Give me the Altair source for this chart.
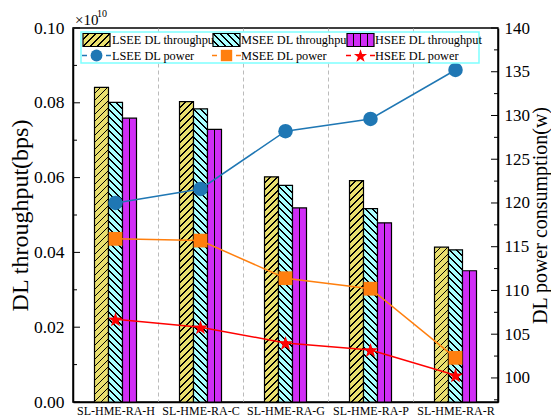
import math
import altair as alt
import pandas as pd

# ---------------- data ----------------
categories = ["SL-HME-RA-H", "SL-HME-RA-C", "SL-HME-RA-G", "SL-HME-RA-P", "SL-HME-RA-R"]
tp_series = ["LSEE DL throughput", "MSEE DL throughput", "HSEE DL throughput"]
pw_series = ["LSEE DL power", "MSEE DL power", "HSEE DL power"]

lsee_tp = [0.0841, 0.0803, 0.0602, 0.0592, 0.0414]
msee_tp = [0.0801, 0.0784, 0.0579, 0.0517, 0.0407]
hsee_tp = [0.0759, 0.0729, 0.0519, 0.0479, 0.0351]

lsee_pw = [120.0, 121.6, 128.2, 129.6, 135.2]
msee_pw = [115.9, 115.7, 111.4, 110.2, 102.3]
hsee_pw = [106.7, 105.8, 104.0, 103.2, 100.3]

left_major = [0.0, 0.02, 0.04, 0.06, 0.08, 0.10]
left_minor = [0.01, 0.03, 0.05, 0.07, 0.09]
right_major = [100, 105, 110, 115, 120, 125, 130, 135, 140]
right_minor = [97.5, 102.5, 107.5, 112.5, 117.5, 122.5, 127.5, 132.5, 137.5]

# ---------------- style ----------------
FONT = "Liberation Serif"
YELLOW = "#EAE06E"
CYAN = "#A8FFFF"
PURPLE = "#D02EF5"
BLUE = "#1F77B4"
ORANGE = "#FF7F0E"
RED = "#FF0000"
PLOT_W, PLOT_H = 425, 374
Y_DOMAIN = [0, 0.1]
P_DOMAIN = [97.25, 140]
BAR_W = 14

# star symbol path in the [-1, 1] box
_pts = []
for k in range(10):
    ang = math.radians(-90 + 36 * k)
    rad = 1.0 if k % 2 == 0 else 0.4
    _pts.append((rad * math.cos(ang), rad * math.sin(ang) + 0.1))
STAR = "M" + " L".join(f"{x:.3f},{y:.3f}" for x, y in _pts) + " Z"


def diag(fill, w, h, forward=True, period=7.0, lw=1.1):
    r = w / h
    k = (r + 1) / (r * r + 1)
    if forward:
        x1, y1, x2, y2 = 0, 0, r * k, k
    else:
        x1, y1, x2, y2 = 0, 1, r * k, 1 - k
    n = (w + h) / period
    frac = lw / (period / math.sqrt(2))
    stops = []
    i = 0
    while i < n:
        a = min(i / n, 1)
        b = min((i + 1 - frac) / n, 1)
        c = min((i + 1) / n, 1)
        stops += [
            {"offset": a, "color": fill},
            {"offset": b, "color": fill},
            {"offset": b, "color": "black"},
            {"offset": c, "color": "black"},
        ]
        i += 1
    return {"gradient": "linear", "x1": x1, "y1": y1, "x2": x2, "y2": y2, "stops": stops}


def vert(fill, w, period=7.0, lw=1.2):
    n = max(1, round(w / period))
    d = lw / 2 / w
    stops = [{"offset": 0, "color": fill}]
    for kk in range(1, n):
        c = kk / n
        stops += [
            {"offset": c - d, "color": fill},
            {"offset": c - d, "color": "black"},
            {"offset": c + d, "color": "black"},
            {"offset": c + d, "color": fill},
        ]
    stops.append({"offset": 1, "color": fill})
    return {"gradient": "linear", "x1": 0, "y1": 0, "x2": 1, "y2": 0, "stops": stops}


def bar_fill(series_idx, value, w=BAR_W):
    h = max(value / Y_DOMAIN[1] * PLOT_H, 1)
    if series_idx == 0:
        return diag(YELLOW, w, h, True)
    if series_idx == 1:
        return diag(CYAN, w, h, False)
    return vert(PURPLE, w)


y_scale = alt.Scale(domain=Y_DOMAIN, nice=False)
p_scale = alt.Scale(domain=P_DOMAIN, nice=False, zero=False)
x_scale = alt.Scale(paddingInner=0, paddingOuter=0)

x_axis = alt.Axis(title=None, labelAngle=0, labelFontSize=12, labelPadding=3,
                  ticks=False, tickBand="extent", grid=True, gridDash=[4, 3],
                  gridColor="#BBBBBB", gridWidth=1, labelFont=FONT,
                  labelColor="black", domainColor="black", domainWidth=1.5)
left_axis = alt.Axis(values=left_major, format=".2f", title="DL throughput(bps)",
                     orient="left", labelFontSize=17.5, titleFontSize=24, tickSize=0,
                     labelPadding=9, titlePadding=1, grid=False, labelFont=FONT,
                     titleFont=FONT, labelColor="black", titleColor="black",
                     titleFontWeight="normal", domainColor="black", domainWidth=1.5)
right_axis = alt.Axis(values=right_major, title="DL power consumption(w)", orient="right",
                      labelFontSize=17, titleFontSize=20, tickSize=0, labelPadding=6,
                      titlePadding=1, titleAngle=270, titleBaseline="top", grid=False,
                      labelFont=FONT, titleFont=FONT,
                      labelColor="black", titleColor="black", titleFontWeight="normal",
                      domainColor="black", domainWidth=1.5)


def x_enc(axis=None):
    if axis is None:
        return alt.X("cat:N", sort=categories, scale=x_scale)
    return alt.X("cat:N", sort=categories, scale=x_scale, axis=axis)


layers = []
for si, vals in enumerate([lsee_tp, msee_tp, hsee_tp]):
    recs = [{"cat": c, "series": tp_series[si], "val": v, "grad": bar_fill(si, v)}
            for c, v in zip(categories, vals)]
    layers.append(
        alt.Chart(alt.Data(values=recs)).mark_bar(
            width=BAR_W, xOffset=(si - 1) * BAR_W, stroke="black", strokeWidth=1.2
        ).encode(
            x=x_enc(x_axis),
            y=alt.Y("val:Q", scale=y_scale, axis=left_axis if si == 0 else None),
            fill=alt.Fill("grad:N", scale=None),
        ))

one = pd.DataFrame({"a": [0]})


def tick_layer(vals, scale, x0, x1):
    return alt.Chart(pd.DataFrame({"v": vals})).mark_rule(color="black", strokeWidth=1).encode(
        x=alt.value(x0), x2=alt.value(x1), y=alt.Y("v:Q", scale=scale, axis=None))


layers += [
    tick_layer(left_major, y_scale, 0, 7),
    tick_layer(left_minor, y_scale, 0, 4),
    tick_layer(right_major, p_scale, PLOT_W - 7, PLOT_W),
    tick_layer(right_minor, p_scale, PLOT_W - 4, PLOT_W),
]

# ---- power lines & markers (right axis) ----
pw_colors = [BLUE, ORANGE, RED]
pw_shapes = ["circle", "square", STAR]
marker_sizes = [210, 190, 240]
for i, vals in enumerate([lsee_pw, msee_pw, hsee_pw]):
    df = pd.DataFrame({"cat": categories, "pw": vals})
    layers.append(
        alt.Chart(df).mark_line(color=pw_colors[i], strokeWidth=1.5).encode(
            x=x_enc(x_axis),
            y=alt.Y("pw:Q", scale=p_scale, axis=right_axis if i == 0 else None)))
for i, vals in enumerate([lsee_pw, msee_pw, hsee_pw]):
    df = pd.DataFrame({"cat": categories, "pw": vals})
    layers.append(
        alt.Chart(df).mark_point(shape=pw_shapes[i], filled=True, opacity=1, size=marker_sizes[i],
                                 color=pw_colors[i], strokeWidth=0).encode(
            x=x_enc(x_axis),
            y=alt.Y("pw:Q", scale=p_scale, axis=None)))

# ---- legend ----
LEG_X0, LEG_X1, LEG_Y0, LEG_Y1 = 8, 406, 4, 35
layers.append(alt.Chart(one).mark_rect(fill="white", stroke="#7FFFFF", strokeWidth=1.5).encode(
    x=alt.value(LEG_X0), x2=alt.value(LEG_X1), y=alt.value(LEG_Y0), y2=alt.value(LEG_Y1)))

sw_x = [10, 140, 274]
txt_x = [39, 168, 302]
row1_y, row2_y = 12, 27.5
SW_W, SW_H = 27, 13
LEG_FS = 12.3
for i in range(3):
    if i == 0:
        g = diag(YELLOW, SW_W, SW_H, True)
    elif i == 1:
        g = diag(CYAN, SW_W, SW_H, False)
    else:
        g = vert(PURPLE, SW_W, period=6.5)
    layers.append(
        alt.Chart(one).mark_rect(fill=g, stroke="black", strokeWidth=1.2).encode(
            x=alt.value(sw_x[i]), x2=alt.value(sw_x[i] + SW_W),
            y=alt.value(row1_y - SW_H / 2), y2=alt.value(row1_y + SW_H / 2)))
    layers.append(
        alt.Chart(one).mark_text(text=tp_series[i], font=FONT, fontSize=LEG_FS, align="left",
                                 baseline="middle", color="black").encode(
            x=alt.value(txt_x[i]), y=alt.value(row1_y)))

leg_sizes = [140, 130, 190]
for i in range(3):
    cx = sw_x[i] + SW_W / 2
    for (a, b) in [(sw_x[i] - 1, sw_x[i] + 4), (sw_x[i] + SW_W - 4, sw_x[i] + SW_W + 1)]:
        layers.append(
            alt.Chart(one).mark_rule(color=pw_colors[i], strokeWidth=1.5).encode(
                x=alt.value(a), x2=alt.value(b), y=alt.value(row2_y)))
    layers.append(
        alt.Chart(one).mark_point(shape=pw_shapes[i], filled=True, opacity=1, size=leg_sizes[i],
                                  color=pw_colors[i], strokeWidth=0).encode(
            x=alt.value(cx), y=alt.value(row2_y)))
    layers.append(
        alt.Chart(one).mark_text(text=pw_series[i], font=FONT, fontSize=LEG_FS, align="left",
                                 baseline="middle", color="black").encode(
            x=alt.value(txt_x[i]), y=alt.value(row2_y)))

# ---- x10^10 ----
layers.append(alt.Chart(one).mark_text(text="×10", font=FONT, fontSize=15, align="left",
                                       baseline="middle", color="black").encode(
    x=alt.value(2), y=alt.value(-8)))
layers.append(alt.Chart(one).mark_text(text="10", font=FONT, fontSize=10, align="left",
                                       baseline="middle", color="black").encode(
    x=alt.value(24), y=alt.value(-14)))

chart = alt.layer(*layers).resolve_scale(y="independent").properties(
    width=PLOT_W, height=PLOT_H,
    autosize=alt.AutoSizeParams(type="none"),
    padding={"left": 65, "top": 20, "right": 53, "bottom": 15},
    background="white",
).configure_view(stroke="black", strokeWidth=1.5)

chart.save("out.html", embed_options={"renderer": "svg", "actions": False})
